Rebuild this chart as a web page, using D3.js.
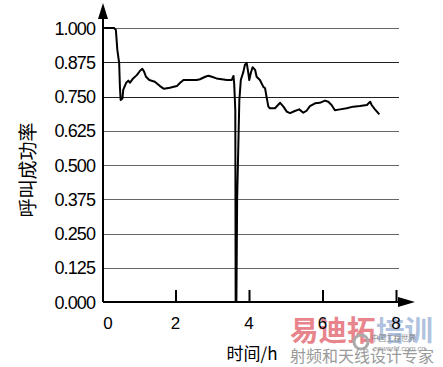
<!DOCTYPE html>
<html><head><meta charset="utf-8">
<script src="https://cdn.jsdelivr.net/npm/d3@7"></script>
<style>body{margin:0;background:#fff}svg{display:block}</style>
</head><body>
<script>
const timeH = [0.03,0.30,0.35,0.39,0.44,0.46,0.48,0.53,0.55,0.63,0.69,0.73,0.82,0.92,1.01,1.07,1.12,1.17,1.26,1.41,1.55,1.66,1.82,2.01,2.10,2.19,2.37,2.55,2.64,2.78,2.87,2.96,3.09,3.23,3.37,3.50,3.55,3.57,3.60,3.61,3.63,3.65,3.71,3.75,3.82,3.86,3.91,3.95,3.98,4.02,4.07,4.14,4.18,4.27,4.36,4.41,4.45,4.50,4.54,4.68,4.82,4.91,5.00,5.09,5.22,5.34,5.45,5.54,5.63,5.77,5.90,6.04,6.13,6.22,6.31,6.45,6.63,6.81,6.99,7.18,7.27,7.31,7.40,7.52];
const successRate = [1.0,1.0,0.993,0.92,0.872,0.786,0.737,0.743,0.774,0.80,0.808,0.80,0.816,0.828,0.844,0.851,0.84,0.822,0.81,0.804,0.788,0.778,0.782,0.788,0.80,0.81,0.81,0.81,0.813,0.822,0.826,0.822,0.816,0.813,0.81,0.81,0.825,0.796,0.70,0.0,0.0,0.376,0.737,0.81,0.84,0.865,0.873,0.84,0.81,0.835,0.857,0.847,0.822,0.81,0.786,0.78,0.749,0.713,0.707,0.707,0.727,0.713,0.695,0.689,0.697,0.703,0.691,0.698,0.715,0.725,0.727,0.735,0.731,0.719,0.70,0.703,0.707,0.713,0.715,0.719,0.731,0.719,0.703,0.685];
const yTicks = [0,0.125,0.25,0.375,0.5,0.625,0.75,0.875,1.0];
const yTickLabels = ["0.000","0.125","0.250","0.375","0.500","0.625","0.750","0.875","1.000"];
const xTicks = [0,2,4,6,8];
const xTitle = "时间/h";
const yTitle = "呼叫成功率";

const W=443,H=367;
const svg=d3.select("body").append("svg").attr("width",W).attr("height",H);
const x=d3.scaleLinear().domain([0,8]).range([103,397]);
const y=d3.scaleLinear().domain([0,1]).range([302,28]);

// watermark
const wm=svg.append("g");
wm.append("text").attr("x",290).attr("y",341).attr("font-family","Noto Sans CJK SC").attr("font-weight","bold")
  .attr("font-size",28.5).attr("fill","#e8848c").text("易迪拓");
wm.append("text").attr("x",376).attr("y",341).attr("font-family","Noto Sans CJK SC").attr("font-weight","bold")
  .attr("font-size",28.5).attr("fill","#a3b8da").attr("opacity",0.85).text("培训");
wm.append("circle").attr("cx",361).attr("cy",342).attr("r",7).attr("fill","none").attr("stroke","#aaa").attr("stroke-width",3);
wm.append("text").attr("x",371).attr("y",341).attr("font-family","Noto Sans CJK SC").attr("font-size",7.5).attr("fill","#888").text("中国工程世界");
wm.append("text").attr("x",373).attr("y",351).attr("font-family","Liberation Sans").attr("font-style","italic").attr("font-size",7.5).attr("fill","#999").text("eeworld.com.cn");
wm.append("text").attr("x",290).attr("y",362).attr("font-family","Noto Sans CJK SC").attr("font-size",16).attr("fill","#9a9a9a").text("射频和天线设计专家");

// gridlines
svg.append("g").selectAll("line").data(yTicks.filter(d=>d>0)).join("line")
  .attr("x1",x(0)).attr("x2",399).attr("y1",d=>Math.round(y(d))+0.5).attr("y2",d=>Math.round(y(d))+0.5)
  .attr("stroke",d=>(d===0.875||d===0.75)?"#222":"#666").attr("stroke-width",1);

// axes
svg.append("line").attr("x1",x(0)).attr("x2",399).attr("y1",302).attr("y2",302).attr("stroke","#000").attr("stroke-width",2);
svg.append("line").attr("x1",x(0)).attr("x2",x(0)).attr("y1",302).attr("y2",16).attr("stroke","#000").attr("stroke-width",2);
svg.append("path").attr("d",`M${x(0)},3 L${x(0)-5},19 L${x(0)+5},19 Z`).attr("fill","#000");
svg.append("path").attr("d",`M415,302 L398,297 L398,307 Z`).attr("fill","#000");

// x ticks
svg.append("g").selectAll("line").data(xTicks.filter(d=>d>0)).join("line")
  .attr("x1",d=>x(d)-0.5).attr("x2",d=>x(d)-0.5).attr("y1",302).attr("y2",290).attr("stroke","#000").attr("stroke-width",2);
svg.append("g").selectAll("text").data(xTicks).join("text")
  .attr("x",d=>d===0?x(d)+5:x(d)-1).attr("y",329).attr("text-anchor","middle")
  .attr("font-family","Liberation Sans, Arial").attr("font-size",17).attr("fill","#000").text(d=>d);

// y labels
svg.append("g").selectAll("text").data(yTicks).join("text")
  .attr("x",95).attr("y",d=>y(d)+6.5).attr("text-anchor","end")
  .attr("font-family","Liberation Sans, Arial").attr("font-size",18).attr("letter-spacing",-0.9).attr("fill","#000")
  .text((d,i)=>yTickLabels[i]);

// titles
svg.append("text").attr("x",252).attr("y",360).attr("text-anchor","middle")
  .attr("font-family","Noto Sans CJK SC").attr("font-size",17).attr("fill","#000").text(xTitle);
svg.append("text").attr("transform","translate(35,170) rotate(-90)").attr("text-anchor","middle")
  .attr("font-family","Noto Sans CJK SC").attr("font-size",19).attr("fill","#000").text(yTitle);

// data line
const line=d3.line().x((d,i)=>x(timeH[i])).y(d=>y(d));
svg.append("path").datum(successRate).attr("d",line).attr("fill","none").attr("stroke","#000").attr("stroke-width",2).attr("stroke-linejoin","round");
</script>
</body></html>
